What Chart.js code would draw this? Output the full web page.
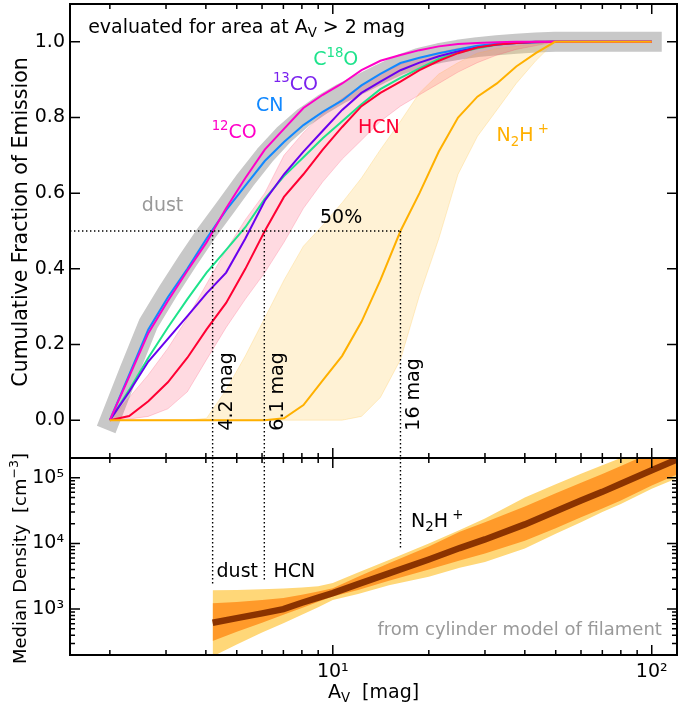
<!DOCTYPE html>
<html>
<head>
<meta charset="utf-8">
<script src="https://cdn.jsdelivr.net/npm/chart.js@4.4.1/dist/chart.umd.min.js"></script>
<style>
  html, body { margin: 0; padding: 0; background: #fff; }
  #wrap { position: relative; width: 678px; height: 711px; }
  #top { position: absolute; left: 0; top: 0; }
  #bot { position: absolute; left: 0; top: 430px; }
</style>
</head>
<body>
<div id="wrap">
  <canvas id="top" width="678" height="460"></canvas>
  <canvas id="bot" width="678" height="281"></canvas>
</div>
<script>
// A_V grid of the cumulative curves (mag)
const av = [2.00, 2.30, 2.64, 3.04, 3.50, 4.02, 4.63, 5.32, 6.12, 7.03, 8.09, 9.30, 10.7, 12.3, 14.1, 16.3, 18.7, 21.5, 24.7, 28.4, 32.7, 37.6, 43.3, 49.7, 57.2, 65.8, 75.6, 87.0, 100];

const dust  = [0, 0.13, 0.255, 0.34, 0.42, 0.495, 0.565, 0.635, 0.70, 0.755, 0.80, 0.835, 0.865, 0.89, 0.915, 0.94, 0.958, 0.97, 0.979, 0.986, 0.991, 0.995, 0.998, 1, 1, 1, 1, 1, 1];
const co12  = [0, 0.115, 0.23, 0.315, 0.395, 0.47, 0.56, 0.64, 0.715, 0.77, 0.825, 0.86, 0.89, 0.925, 0.95, 0.965, 0.978, 0.988, 0.994, 0.997, 0.999, 1, 1, 1, 1, 1, 1, 1, 1];
const cn    = [0, 0.12, 0.24, 0.325, 0.40, 0.48, 0.555, 0.62, 0.685, 0.735, 0.78, 0.815, 0.845, 0.885, 0.915, 0.944, 0.958, 0.97, 0.98, 0.99, 0.995, 0.998, 1, 1, 1, 1, 1, 1, 1];
const co13  = [0, 0.075, 0.155, 0.215, 0.275, 0.335, 0.39, 0.48, 0.58, 0.65, 0.71, 0.765, 0.82, 0.865, 0.895, 0.925, 0.945, 0.962, 0.975, 0.986, 0.993, 0.997, 0.999, 1, 1, 1, 1, 1, 1];
const c18o  = [0, 0.08, 0.165, 0.245, 0.32, 0.39, 0.45, 0.51, 0.585, 0.645, 0.695, 0.745, 0.79, 0.835, 0.875, 0.905, 0.93, 0.955, 0.972, 0.983, 0.992, 0.997, 0.999, 1, 1, 1, 1, 1, 1];
const hcn   = [0, 0.011, 0.05, 0.10, 0.165, 0.24, 0.31, 0.40, 0.50, 0.59, 0.65, 0.715, 0.775, 0.83, 0.865, 0.895, 0.925, 0.95, 0.97, 0.985, 0.993, 0.997, 1, 1, 1, 1, 1, 1, 1];
const hcnHi = [0, 0.06, 0.12, 0.19, 0.27, 0.36, 0.45, 0.53, 0.60, 0.70, 0.76, 0.81, 0.85, 0.885, 0.915, 0.94, 0.958, 0.972, 0.983, 0.99, 0.995, 0.998, 1, 1, 1, 1, 1, 1, 1];
const hcnLo = [0, 0.003, 0.01, 0.03, 0.075, 0.16, 0.245, 0.32, 0.39, 0.47, 0.56, 0.63, 0.69, 0.74, 0.79, 0.83, 0.86, 0.89, 0.92, 0.945, 0.965, 0.98, 0.99, 1, 1, 1, 1, 1, 1];
const n2h   = [0, 0, 0, 0, 0, 0, 0, 0, 0, 0.005, 0.04, 0.105, 0.17, 0.26, 0.37, 0.50, 0.60, 0.71, 0.80, 0.855, 0.89, 0.935, 0.97, 1, 1, 1, 1, 1, 1];
const n2hHi = [0, 0, 0, 0, 0, 0.005, 0.08, 0.17, 0.27, 0.37, 0.46, 0.515, 0.575, 0.64, 0.715, 0.79, 0.865, 0.915, 0.945, 0.97, 0.982, 0.988, 0.995, 1, 1, 1, 1, 1, 1];
const n2hLo = [0, 0, 0, 0, 0, 0, 0, 0, 0, 0, 0, 0, 0, 0.01, 0.06, 0.16, 0.33, 0.48, 0.65, 0.75, 0.82, 0.89, 0.95, 1, 1, 1, 1, 1, 1];

// 50% marks (mag): dust, HCN, N2H+
const halfAv = [4.2, 6.1, 16.3];
const halfLabels = ['4.2 mag', '6.1 mag', '16 mag'];
// where the marks stop in the density panel
const halfDensEnd = [2250, 2620, 8100];

// density panel
const densAv    = [4.2, 5, 6, 7, 8, 9, 10, 12, 15, 20, 25, 30, 40, 50, 60, 70, 80, 100, 120];
const densMed   = [620, 730, 860, 1000, 1250, 1500, 1750, 2400, 3500, 5700, 8500, 11500, 19500, 31000, 45000, 61000, 81000, 130000, 190000];
const densMidHi = [1230, 1280, 1380, 1480, 1650, 1850, 2080, 3100, 5000, 9000, 15000, 21000, 36500, 58000, 84000, 114000, 151000, 243000, 355000];
const densMidLo = [328, 450, 620, 820, 1040, 1290, 1550, 1950, 2700, 4000, 5500, 7000, 11000, 17000, 25000, 34000, 45000, 76000, 112000];
const densOutHi = [1940, 1960, 2000, 2060, 2130, 2230, 2500, 3600, 5600, 10000, 16000, 24000, 50000, 80000, 115000, 155000, 200000, 320000, 470000];
const densOutLo = [190, 290, 440, 610, 820, 1070, 1380, 1700, 2300, 3100, 4250, 5200, 8400, 14000, 21000, 30000, 40000, 68000, 98000];

// ticks
const xMajor = [10, 100];
const xMinor = [2, 3, 4, 5, 6, 7, 8, 9, 20, 30, 40, 50, 60, 70, 80, 90];
const fracTicks = [0, 0.2, 0.4, 0.6, 0.8, 1.0];
const densMajor = [1e3, 1e4, 1e5];
const densMinor = [200, 300, 400, 500, 600, 700, 800, 900, 2000, 3000, 4000, 5000, 6000, 7000, 8000, 9000,
                   20000, 30000, 40000, 50000, 60000, 70000, 80000, 90000];
const supDigits = { 1: '\u00b9', 2: '\u00b2', 3: '\u00b3', 4: '\u2074', 5: '\u2075' };

const FONT = '"DejaVu Sans"';
const pts = (xs, ys) => xs.map((x, i) => ({ x, y: ys[i] }));

function rich(ctx, parts, x, y, size, color, align) {
  ctx.save();
  ctx.fillStyle = color;
  ctx.textBaseline = 'alphabetic';
  ctx.textAlign = 'left';
  const fontFor = m => (m === 'n' ? size : size * 0.7) + 'px ' + FONT;
  let w = 0;
  for (const [t, m] of parts) { ctx.font = fontFor(m); w += ctx.measureText(t).width; }
  let cx = align === 'center' ? x - w / 2 : align === 'right' ? x - w : x;
  for (const [t, m] of parts) {
    ctx.font = fontFor(m);
    const dy = m === 'sup' ? -size * 0.42 : m === 'sub' ? size * 0.22 : 0;
    ctx.fillText(t, cx, y + dy);
    cx += ctx.measureText(t).width;
  }
  ctx.restore();
}

function richRot(ctx, parts, x, y, size, color, align) {
  ctx.save();
  ctx.translate(x, y);
  ctx.rotate(-Math.PI / 2);
  rich(ctx, parts, 0, 0, size, color, align);
  ctx.restore();
}

function frame(chart, yMaj, yMin) {
  const { ctx, chartArea: a, scales: { x, y } } = chart;
  ctx.save();
  ctx.strokeStyle = '#000';
  ctx.lineWidth = 1.5;
  ctx.beginPath();
  const tick = (px, py, dx, dy) => { ctx.moveTo(px, py); ctx.lineTo(px + dx, py + dy); };
  for (const v of xMajor) { const p = x.getPixelForValue(v); tick(p, a.bottom, 0, -10); tick(p, a.top, 0, 10); }
  for (const v of xMinor) { const p = x.getPixelForValue(v); tick(p, a.bottom, 0, -5); tick(p, a.top, 0, 5); }
  for (const v of yMaj) { const p = y.getPixelForValue(v); tick(a.left, p, 10, 0); tick(a.right, p, -10, 0); }
  for (const v of yMin) { const p = y.getPixelForValue(v); tick(a.left, p, 5, 0); tick(a.right, p, -5, 0); }
  ctx.stroke();
  ctx.lineWidth = 2;
  ctx.strokeRect(a.left, a.top, a.right - a.left, a.bottom - a.top);
  ctx.restore();
}

// keep the plot box fixed: no extra room for tick labels
const fixBox = (w, h) => s => {
  if (w !== null) s.width = w;
  if (h !== null) s.height = h;
  s.paddingTop = 0; s.paddingBottom = 0; s.paddingLeft = 0; s.paddingRight = 0;
};

const line = (label, data, color, width, order) => ({
  label, data, borderColor: color, borderWidth: width, order,
  pointRadius: 0, tension: 0, fill: false
});
const dotted = (data) => ({
  data, borderColor: '#000', borderWidth: 1.4, borderDash: [1.4, 2.6],
  pointRadius: 0, fill: false, order: 0
});

// ---------- top panel ----------
const topSets = [];
topSets.push(line('N2H+', pts(av, n2h), '#ffb000', 2, 1));
topSets.push(line('12CO', pts(av, co12), '#ff00c8', 2, 2));
topSets.push(line('HCN', pts(av, hcn), '#ff0033', 2, 3));
topSets.push(line('CN', pts(av, cn), '#1188ff', 2, 4));
topSets.push(line('13CO', pts(av, co13), '#6a00ee', 2, 5));
topSets.push(line('C18O', pts(av, c18o), '#1ee38c', 2, 6));
const iHcnLo = topSets.length;
topSets.push(line('HCN lo', pts(av, hcnLo), 'rgba(255,60,100,0.22)', 1, 8));
topSets.push(Object.assign(line('HCN hi', pts(av, hcnHi), 'rgba(255,60,100,0.22)', 1, 8),
  { fill: { target: iHcnLo }, backgroundColor: 'rgba(255,50,90,0.18)' }));
const iN2hLo = topSets.length;
topSets.push(line('N2H+ lo', pts(av, n2hLo), 'rgba(255,190,60,0.25)', 1, 9));
topSets.push(Object.assign(line('N2H+ hi', pts(av, n2hHi), 'rgba(255,190,60,0.25)', 1, 9),
  { fill: { target: iN2hLo }, backgroundColor: 'rgba(255,200,80,0.24)' }));
topSets.push(Object.assign(line('dust', pts(av, dust), '#c8c8c8', 20, 10),
  { borderCapStyle: 'square', borderJoinStyle: 'round' }));
topSets.push(dotted([{ x: 1.5, y: 0.5 }, { x: halfAv[2], y: 0.5 }]));
halfAv.forEach(v => topSets.push(dotted([{ x: v, y: 0.5 }, { x: v, y: -0.1 }])));

const topDecor = {
  id: 'topDecor',
  afterDraw(chart) {
    const { ctx, chartArea: a, scales: { x, y } } = chart;
    frame(chart, fracTicks, []);
    const at = (xv, yv) => [x.getPixelForValue(xv), y.getPixelForValue(yv)];
    let p;
    p = at(1.71, 1.023); rich(ctx, [['evaluated for area at A', 'n'], ['V', 'sub'], [' > 2 mag', 'n']], p[0], p[1], 19, '#000');
    p = at(2.52, 0.552); rich(ctx, [['dust', 'n']], p[0], p[1], 19, '#999');
    p = at(9.12, 0.52); rich(ctx, [['50%', 'n']], p[0], p[1], 19, '#000');
    p = at(4.17, 0.746); rich(ctx, [['12', 'sup'], ['CO', 'n']], p[0], p[1], 19, '#ff00c8');
    p = at(5.74, 0.816); rich(ctx, [['CN', 'n']], p[0], p[1], 19, '#1188ff');
    p = at(6.49, 0.873); rich(ctx, [['13', 'sup'], ['CO', 'n']], p[0], p[1], 19, '#7a22ee');
    p = at(8.68, 0.938); rich(ctx, [['C', 'n'], ['18', 'sup'], ['O', 'n']], p[0], p[1], 19, '#1ee38c');
    p = at(12.0, 0.759); rich(ctx, [['HCN', 'n']], p[0], p[1], 19, '#ff0033');
    p = at(32.6, 0.737); rich(ctx, [['N', 'n'], ['2', 'sub'], ['H', 'n'], [' +', 'sup']], p[0], p[1], 19, '#ffb000');
    halfAv.forEach((v, i) => {
      p = at(v, 0);
      richRot(ctx, [[halfLabels[i], 'n']], p[0] + 19, p[1] + 10.5, 19, '#000');
    });
    richRot(ctx, [['Cumulative Fraction of Emission', 'n']], 26.5, (a.top + a.bottom) / 2 - 9, 20.5, '#000', 'center');
  }
};

new Chart(document.getElementById('top'), {
  type: 'line',
  data: { datasets: topSets },
  options: {
    responsive: false, animation: false,
    layout: { padding: { top: 4, right: 1, bottom: 2, left: 0 } },
    plugins: { legend: { display: false }, tooltip: { enabled: false } },
    scales: {
      x: { type: 'logarithmic', min: 1.5, max: 120, display: false },
      y: {
        type: 'linear', min: -0.1, max: 1.1,
        afterFit: fixBox(70, null),
        afterBuildTicks: s => { s.ticks = fracTicks.map(v => ({ value: v })); },
        grid: { display: false, drawTicks: false }, border: { display: false },
        ticks: { padding: 5, color: '#000', font: { family: FONT, size: 19 }, callback: v => v.toFixed(1) }
      }
    }
  },
  plugins: [topDecor]
});

// ---------- bottom panel ----------
const botSets = [];
botSets.push(line('median', pts(densAv, densMed), '#8b3300', 6.5, 1));
const iMidLo = botSets.length;
botSets.push(line('mid lo', pts(densAv, densMidLo), 'rgba(0,0,0,0)', 0, 2));
botSets.push(Object.assign(line('mid hi', pts(densAv, densMidHi), 'rgba(0,0,0,0)', 0, 2),
  { fill: { target: iMidLo }, backgroundColor: '#ff9a2a' }));
const iOutLo = botSets.length;
botSets.push(line('out lo', pts(densAv, densOutLo), 'rgba(0,0,0,0)', 0, 3));
botSets.push(Object.assign(line('out hi', pts(densAv, densOutHi), 'rgba(0,0,0,0)', 0, 3),
  { fill: { target: iOutLo }, backgroundColor: '#ffd778' }));
halfAv.forEach((v, i) => botSets.push(dotted([{ x: v, y: 2e5 }, { x: v, y: halfDensEnd[i] }])));

const botDecor = {
  id: 'botDecor',
  afterDraw(chart) {
    const { ctx, chartArea: a, scales: { x, y } } = chart;
    frame(chart, densMajor, densMinor);
    const at = (xv, yv) => [x.getPixelForValue(xv), y.getPixelForValue(yv)];
    let p;
    p = at(17.6, 17600); rich(ctx, [['N', 'n'], ['2', 'sub'], ['H', 'n'], [' +', 'sup']], p[0], p[1], 19, '#000');
    p = at(4.32, 3055); rich(ctx, [['dust', 'n']], p[0], p[1], 19, '#000');
    p = at(6.52, 3055); rich(ctx, [['HCN', 'n']], p[0], p[1], 19, '#000');
    p = at(107.6, 405); rich(ctx, [['from cylinder model of filament', 'n']], p[0], p[1], 18, '#999', 'right');
    richRot(ctx, [['Median Density  [cm', 'n'], ['\u22123', 'sup'], [']', 'n']], 25.5, (a.top + a.bottom) / 2 + 2, 18, '#000', 'center');
    rich(ctx, [['A', 'n'], ['V', 'sub'], ['  [mag]', 'n']], (a.left + a.right) / 2, a.bottom + 43, 19, '#000', 'center');
  }
};

new Chart(document.getElementById('bot'), {
  type: 'line',
  data: { datasets: botSets },
  options: {
    responsive: false, animation: false,
    layout: { padding: { top: 28, right: 1, bottom: 0, left: 0 } },
    plugins: { legend: { display: false }, tooltip: { enabled: false } },
    scales: {
      x: {
        type: 'logarithmic', min: 1.5, max: 120,
        afterFit: fixBox(null, 56),
        afterBuildTicks: s => { s.ticks = xMajor.map(v => ({ value: v })); },
        grid: { display: false, drawTicks: false }, border: { display: false },
        ticks: { padding: 6, color: '#000', font: { family: FONT, size: 19 }, maxRotation: 0,
                 callback: v => '10' + supDigits[Math.round(Math.log10(v))] }
      },
      y: {
        type: 'logarithmic', min: 200, max: 2e5,
        afterFit: fixBox(70, null),
        afterBuildTicks: s => { s.ticks = densMajor.map(v => ({ value: v })); },
        grid: { display: false, drawTicks: false }, border: { display: false },
        ticks: { padding: 6, color: '#000', font: { family: FONT, size: 19 },
                 callback: v => '10' + supDigits[Math.round(Math.log10(v))] }
      }
    }
  },
  plugins: [botDecor]
});
</script>
</body>
</html>
